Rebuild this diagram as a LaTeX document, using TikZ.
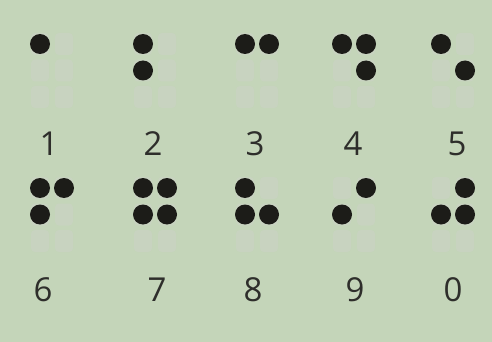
\documentclass[tikz,border=0pt]{standalone}
\usepackage{fontspec}
\setmainfont{Open Sans}
\definecolor{bg}{HTML}{C4D5B9}
\definecolor{dotc}{HTML}{1C1C18}
\definecolor{ghost}{HTML}{CBD3C5}
\definecolor{numc}{HTML}{2E2E2B}
\begin{document}
\begin{tikzpicture}[x=1pt,y=-1pt,
  dotfull/.style={circle,fill=dotc,inner sep=0pt,minimum size=20pt},
  dotghost/.style={rectangle,rounded corners=4pt,fill=ghost,inner sep=0pt,minimum width=18pt,minimum height=22pt,opacity=0.6},
  numlabel/.style={text=numc,font=\fontsize{33}{33}\selectfont,inner sep=0pt,anchor=center}]
\fill[bg] (0,0) rectangle (492,342);
\useasboundingbox (0,0) rectangle (492,342);
% cells: name / left x / top y / filled dots
\foreach \n/\x/\y/\dots in {
  c1/40/44/{1},
  c2/143/44/{1,2},
  c3/245/44/{1,4},
  c4/342/44/{1,4,5},
  c5/441/44/{1,5},
  c6/40/188/{1,2,4},
  c7/143/188/{1,2,4,5},
  c8/245/188/{1,2,5},
  c9/342/188/{2,4},
  c0/441/188/{2,4,5}}{
  \foreach \k/\dx/\dy in {1/0/0,2/0/26.5,3/0/53,4/24/0,5/24/26.5,6/24/53}{
    \node[dotghost] (\n-g\k) at (\x+\dx,\y+\dy) {};
  }
  \foreach \k in \dots {
    \pgfmathsetmacro{\dx}{(\k>3)*24}
    \pgfmathsetmacro{\dy}{mod(\k-1,3)*26.5}
    \node[dotfull] (\n-d\k) at (\x+\dx,\y+\dy) {};
  }
}
\node[numlabel] (l1) at (49,144) {1};
\node[numlabel] (l2) at (153,144) {2};
\node[numlabel] (l3) at (255,144) {3};
\node[numlabel] (l4) at (353,144) {4};
\node[numlabel] (l5) at (457,144) {5};
\node[numlabel] (l6) at (43,290) {6};
\node[numlabel] (l7) at (157,290) {7};
\node[numlabel] (l8) at (253,290) {8};
\node[numlabel] (l9) at (355,290) {9};
\node[numlabel] (l0) at (453,290) {0};
\end{tikzpicture}
\end{document}
